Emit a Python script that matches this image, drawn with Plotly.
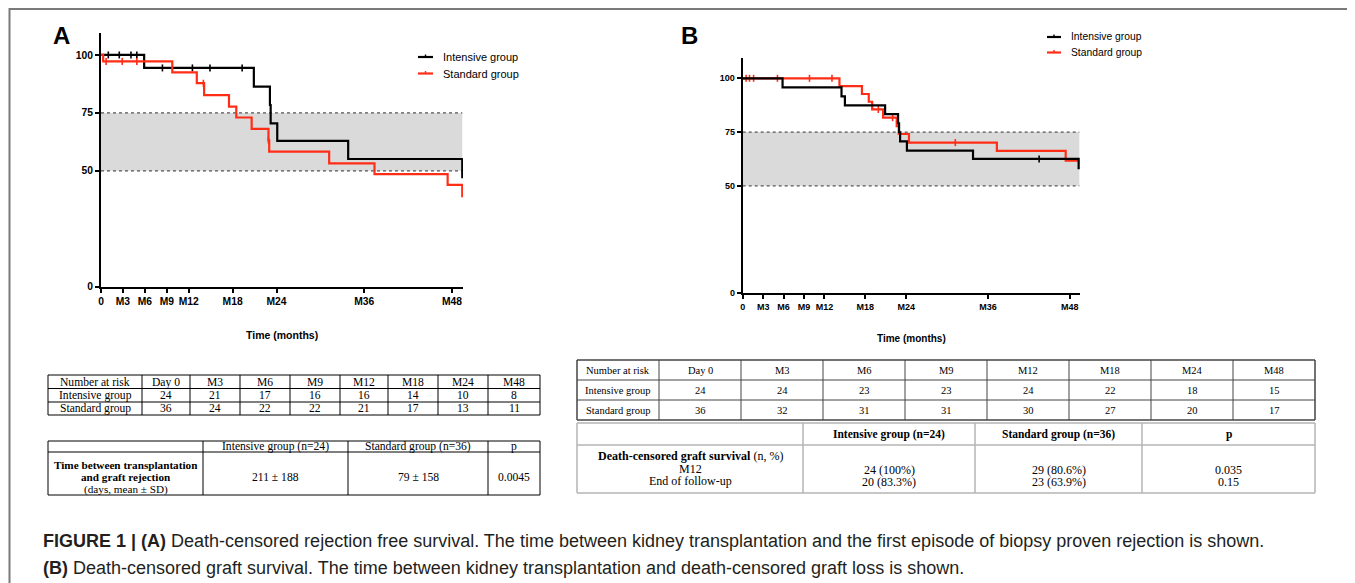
import plotly.graph_objects as go

W, H = 1355, 583
OX, OY = 8, 8            # browser body margin offset
WF, HF = W - OX, H - OY  # figure size

# ---------------- data ----------------
# Panel A: death-censored rejection free survival (months, %)
a_int_t = [5.9, 20.9, 23.1, 23.2, 24.1, 33.8, 49.4]
a_int_s = [94.4, 86.3, 78.4, 70.5, 62.9, 55.1, 46.8]
a_int_cens = [1.0, 2.5, 4.1, 4.9, 8.4, 12.5, 14.9, 19.3]

a_std_t = [0.3, 9.75, 13.1, 14.1, 17.5, 18.5, 20.6, 22.9, 23.0, 31.2, 37.4, 47.4, 49.4]
a_std_s = [97.2, 92.5, 87.8, 82.7, 77.7, 73.0, 68.1, 63.2, 58.3, 53.2, 48.6, 43.9, 38.6]
a_std_cens = [0.7, 2.9, 4.9, 14.0, 22.9]

# Panel B: death-censored graft survival (months, %)
b_int_t = [5.85, 14.5, 15.0, 20.9, 22.8, 22.95, 23.1, 24.1, 33.8, 49.3]
b_int_s = [95.8, 91.6, 87.4, 83.3, 79.1, 74.9, 70.7, 66.4, 62.5, 57.7]
b_int_cens = [43.5]

b_std_t = [14.2, 17.5, 18.5, 19.0, 20.6, 22.6, 22.9, 24.4, 37.3, 47.4]
b_std_s = [96.4, 92.7, 89.1, 85.5, 81.7, 77.8, 74.1, 70.1, 66.2, 61.7]
b_std_cens = [0.5, 1.0, 1.6, 5.1, 9.8, 13.1, 19.9, 22.0, 31.2]

follow_end = 49.4
x_tickvals = [0, 3, 6, 9, 12, 18, 24, 36, 48]
x_ticktext = ["0", "M3", "M6", "M9", "M12", "M18", "M24", "M36", "M48"]
y_tickvals = [0, 50, 75, 100]
band_low, band_high = 50, 75

groups = ["Intensive group", "Standard group"]

risk_cols = ["Number at risk", "Day 0", "M3", "M6", "M9", "M12", "M18", "M24", "M48"]
a_risk_int = [24, 21, 17, 16, 16, 14, 10, 8]
a_risk_std = [36, 24, 22, 22, 21, 17, 13, 11]
b_risk_int = [24, 24, 23, 23, 24, 22, 18, 15]
b_risk_std = [36, 32, 31, 31, 30, 27, 20, 17]

a_tab2_head = ["", "Intensive group (n=24)", "Standard group (n=36)", "p"]
a_tab2_label = ["<b>Time between transplantation</b>", "<b>and graft rejection</b>", "(days, mean ± SD)"]
a_tab2_vals = ["211 ± 188", "79 ± 158", "0.0045"]

b_tab2_head = ["", "<b>Intensive group (n=24)</b>", "<b>Standard group (n=36)</b>", "<b>p</b>"]
b_tab2_label = ["<b>Death-censored graft survival</b> (n, %)", "M12", "End of follow-up"]
b_tab2_m12 = ["24 (100%)", "29 (80.6%)", "0.035"]
b_tab2_end = ["20 (83.3%)", "23 (63.9%)", "0.15"]

caption1 = ("<b>FIGURE 1 | (A)</b> Death-censored rejection free survival. The time between kidney "
            "transplantation and the first episode of biopsy proven rejection is shown.")
caption2 = "<b>(B)</b> Death-censored graft survival. The time between kidney transplantation and death-censored graft loss is shown."

BLACK = "#000000"
RED = "#ff2d16"
SANS = "Liberation Sans, Arial, Helvetica, sans-serif"
SERIF = "Liberation Serif, Times New Roman, serif"


def px(x):
    return (x - OX) / WF


def py(y):
    return 1 - (y - OY) / HF


def surv_at(times, surv, t):
    v = 100
    for tt, s in zip(times, surv):
        if tt <= t:
            v = s
    return v


fig = go.Figure()
shapes = []
annotations = []


def add_curve(times, surv, cens, color, xa, ya, end):
    xs = [0] + list(times)
    ys = [100] + list(surv)
    if xs[-1] < end:
        xs.append(end)
        ys.append(ys[-1])
    fig.add_trace(go.Scatter(x=xs, y=ys, mode="lines", line=dict(color=color, width=2.2, shape="hv"),
                             xaxis=xa, yaxis=ya, showlegend=False, hoverinfo="skip", cliponaxis=False))
    cy = [surv_at(times, surv, c) for c in cens]
    fig.add_trace(go.Scatter(x=cens, y=cy, mode="markers",
                             marker=dict(symbol="line-ns", size=5, color=color, line=dict(width=1.6, color=color)),
                             xaxis=xa, yaxis=ya, showlegend=False, hoverinfo="skip", cliponaxis=False))


add_curve(a_int_t, a_int_s, a_int_cens, BLACK, "x", "y", follow_end)
add_curve(a_std_t, a_std_s, a_std_cens, RED, "x", "y", follow_end)
add_curve(b_std_t, b_std_s, b_std_cens, RED, "x2", "y2", 49.3)
add_curve(b_int_t, b_int_s, b_int_cens, BLACK, "x2", "y2", 49.3)

# grey band + dotted borders
for xr, yr in [("x", "y"), ("x2", "y2")]:
    shapes.append(dict(type="rect", xref=xr, yref=yr, x0=0, x1=follow_end, y0=band_low, y1=band_high,
                       fillcolor="#dadada", line=dict(width=0), layer="below"))
    for yv in [band_low, band_high]:
        shapes.append(dict(type="line", xref=xr, yref=yr, x0=0, x1=follow_end, y0=yv, y1=yv,
                           line=dict(color="#555555", width=1.2, dash="dot"), layer="below"))


def axis(domain, rng, tv, tt, fs):
    return dict(domain=domain, range=rng, showgrid=False, zeroline=False, showline=True,
                linecolor=BLACK, linewidth=2, ticks="outside", ticklen=4, tickwidth=1.5, tickcolor=BLACK,
                tickvals=tv, ticktext=["<b>%s</b>" % t for t in tt], automargin=False,
                tickfont=dict(family=SANS, size=fs, color=BLACK), fixedrange=True)


layout_axes = dict(
    xaxis=axis([px(101), px(463)], [0, 49.5], x_tickvals, x_ticktext, 10.3),
    yaxis=axis([py(286.7), py(32.7)], [0, 109.6], y_tickvals, [str(v) for v in y_tickvals], 10.3),
    xaxis2=axis([px(742.7), px(1080)], [0, 49.5], x_tickvals, x_ticktext, 9),
    yaxis2=axis([py(293.3), py(58.3)], [0, 109.3], y_tickvals, [str(v) for v in y_tickvals], 9),
)
layout_axes["xaxis"]["anchor"] = "y"
layout_axes["yaxis"]["anchor"] = "x"
layout_axes["xaxis2"]["anchor"] = "y2"
layout_axes["yaxis2"]["anchor"] = "x2"


def txt(x, y, text, size, family=SANS, xanchor="center", color=BLACK):
    annotations.append(dict(xref="paper", yref="paper", x=px(x), y=py(y), text=text, showarrow=False,
                            xanchor=xanchor, yanchor="middle", font=dict(family=family, size=size, color=color),
                            borderpad=0))


def hline(x0, x1, y, color=BLACK, width=1):
    shapes.append(dict(type="line", xref="paper", yref="paper", x0=px(x0), x1=px(x1), y0=py(y), y1=py(y),
                       line=dict(color=color, width=width)))


def vline(x, y0, y1, color=BLACK, width=1):
    shapes.append(dict(type="line", xref="paper", yref="paper", x0=px(x), x1=px(x), y0=py(y0), y1=py(y1),
                       line=dict(color=color, width=width)))


# panel letters
txt(61, 36, "<b>A</b>", 24)
txt(689, 36, "<b>B</b>", 24)

# axis titles
txt(282, 335, "<b>Time (months)</b>", 10.5)
txt(911, 338, "<b>Time (months)</b>", 10)

# legends
for (lx0, lx1, ly, dy, fs) in [(418, 433, 57, 16.5, 11), (1047, 1061, 37, 15.5, 10.3)]:
    for i, (g, c) in enumerate(zip(groups, [BLACK, RED])):
        yy = ly + i * dy
        hline(lx0, lx1, yy, c, 2.2)
        vline((lx0 + lx1) / 2, yy - 2.5, yy, c, 1.4)
        txt(lx1 + 9, yy, g, fs, xanchor="left")

# ---- Table A1 (number at risk) ----
a1_x = [48, 142, 190, 240, 290, 340, 388, 438, 488, 540]
a1_y = [375, 388.5, 402, 415]
for yv in a1_y:
    hline(a1_x[0], a1_x[-1], yv)
for xv in a1_x:
    vline(xv, a1_y[0], a1_y[-1])
rowsA = [risk_cols, [groups[0]] + [str(v) for v in a_risk_int], [groups[1]] + [str(v) for v in a_risk_std]]
for r, row in enumerate(rowsA):
    for c, val in enumerate(row):
        txt((a1_x[c] + a1_x[c + 1]) / 2, (a1_y[r] + a1_y[r + 1]) / 2 + 0.5, val, 11.6, SERIF)

# ---- Table A2 ----
a2_x = [48, 203, 348, 488, 540]
a2_y = [441, 452, 495]
for yv in a2_y:
    hline(a2_x[0], a2_x[-1], yv)
for xv in a2_x:
    vline(xv, a2_y[0], a2_y[-1])
for c, val in enumerate(a_tab2_head):
    if val:
        txt((a2_x[c] + a2_x[c + 1]) / 2, 446.5, val, 11.6, SERIF)
for i, line in enumerate(a_tab2_label):
    txt((a2_x[0] + a2_x[1]) / 2, 465 + i * 12, line, 11.2, SERIF)
for c, val in enumerate(a_tab2_vals):
    txt((a2_x[c + 1] + a2_x[c + 2]) / 2, 477, val, 11.6, SERIF)

# ---- Table B1 ----
b1_x = [577 + 82 * i for i in range(10)]
b1_y = [360, 380, 400, 420]
for k, yv in enumerate(b1_y):
    hline(b1_x[0], b1_x[-1], yv, "#444444", 1.5 if k in (0, 3) else 1)
for k, xv in enumerate(b1_x):
    vline(xv, b1_y[0], b1_y[-1], "#444444", 1.5 if k in (0, 9) else 1)
rowsB = [risk_cols, [groups[0]] + [str(v) for v in b_risk_int], [groups[1]] + [str(v) for v in b_risk_std]]
for r, row in enumerate(rowsB):
    for c, val in enumerate(row):
        txt((b1_x[c] + b1_x[c + 1]) / 2, (b1_y[r] + b1_y[r + 1]) / 2, val, 10.5, SERIF)

# ---- Table B2 ----
b2_x = [577, 803, 975, 1142, 1315]
b2_y = [423, 445, 493]
for k, yv in enumerate(b2_y):
    hline(b2_x[0], b2_x[-1], yv, "#b5b5b5", 1.5)
for k, xv in enumerate(b2_x):
    vline(xv, b2_y[0], b2_y[-1], "#b5b5b5", 1.5)
for c, val in enumerate(b_tab2_head):
    if val:
        txt((b2_x[c] + b2_x[c + 1]) / 2, 434, val, 11.5, SERIF)
for i, line in enumerate(b_tab2_label):
    txt((b2_x[0] + b2_x[1]) / 2, 456 + i * 12.5, line, 12, SERIF)
for c in range(3):
    cx = (b2_x[c + 1] + b2_x[c + 2]) / 2
    txt(cx, 469.5, b_tab2_m12[c], 12, SERIF)
    txt(cx, 482, b_tab2_end[c], 12, SERIF)

# ---- caption ----
CAP = "Liberation Sans, Arial, sans-serif"
txt(42, 541, caption1, 18, CAP, xanchor="left", color="#231f20")
txt(42, 568, caption2, 18, CAP, xanchor="left", color="#231f20")

# ---- outer frame ----
shapes.append(dict(type="rect", xref="paper", yref="paper", x0=px(9.5), x1=px(1353.5), y0=-0.05, y1=py(9),
                   line=dict(color="#7a7a7a", width=2), fillcolor="rgba(0,0,0,0)"))

fig.update_layout(
    width=WF, height=HF, autosize=False, template="none", showlegend=False,
    margin=dict(l=0, r=0, t=0, b=0, pad=0),
    paper_bgcolor="white", plot_bgcolor="rgba(0,0,0,0)",
    shapes=shapes, annotations=annotations, **layout_axes,
)

fig.write_html("out.html")
